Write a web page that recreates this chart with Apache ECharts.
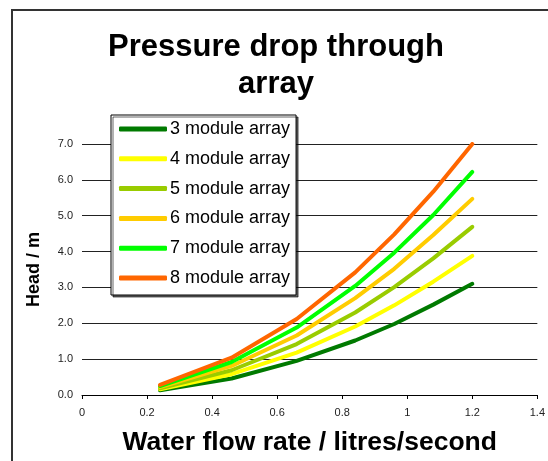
<!DOCTYPE html>
<html>
<head>
<meta charset="utf-8">
<script src="https://cdn.jsdelivr.net/npm/echarts@6/dist/echarts.min.js"></script>
<style>html,body{margin:0;padding:0;background:#fff;}#c{width:548px;height:461px;}</style>
</head>
<body>
<div id="c"></div>
<script>
const flowRates = [0.24, 0.46, 0.66, 0.84, 0.96, 1.08, 1.2];
const seriesNames = ['3 module array','4 module array','5 module array','6 module array','7 module array','8 module array'];
const head3 = [0.13, 0.46, 0.95, 1.52, 1.98, 2.52, 3.10];
const head4 = [0.16, 0.58, 1.18, 1.91, 2.50, 3.16, 3.88];
const head5 = [0.19, 0.69, 1.42, 2.30, 3.01, 3.81, 4.69];
const head6 = [0.22, 0.81, 1.66, 2.70, 3.52, 4.46, 5.47];
const head7 = [0.25, 0.92, 1.88, 3.04, 3.97, 5.02, 6.22];
const head8 = [0.28, 1.04, 2.12, 3.42, 4.48, 5.67, 7.00];
const colors = ['#007A00', '#FFFF00', '#99CC00', '#FFCC00', '#00FF00', '#FF6600'];
const xTicks = [0, 0.2, 0.4, 0.6, 0.8, 1, 1.2, 1.4];
const yTicks = [0, 1, 2, 3, 4, 5, 6, 7];

const allHeads = [head3, head4, head5, head6, head7, head8];
const chart = echarts.init(document.getElementById('c'), null, {renderer: 'canvas'});
const font = 'Arial, "Liberation Sans", Helvetica, sans-serif';
chart.setOption({
  animation: false,
  backgroundColor: '#fff',
  textStyle: {fontFamily: font},
  graphic: [{
    type: 'rect', z: -1, silent: true,
    shape: {x: 12, y: 10, width: 600, height: 520},
    style: {fill: 'none', stroke: '#333', lineWidth: 2}
  }],
  title: {
    text: 'Pressure drop through\narray',
    left: 271, top: 24, textAlign: 'center',
    textStyle: {fontFamily: font, fontSize: 31, fontWeight: 'bold', color: '#000', lineHeight: 37}
  },
  grid: {left: 82, right: 9, top: 144, bottom: 64, containLabel: false},
  legend: {
    orient: 'vertical', left: 111, top: 115,
    backgroundColor: '#fff', borderColor: '#000', borderWidth: 1,
    shadowColor: 'rgba(0,0,0,0.6)', shadowOffsetX: 2, shadowOffsetY: 2, shadowBlur: 0,
    padding: [5, 6, 8, 8], itemGap: 11.8, itemWidth: 48, itemHeight: 5,
    icon: 'roundRect',
    textStyle: {fontFamily: font, fontSize: 18, color: '#000', padding: [0,0,0,-2], lineHeight: 18},
    data: seriesNames
  },
  xAxis: {
    type: 'value', min: 0, max: 1.4, interval: 0.2,
    name: 'Water flow rate / litres/second', nameLocation: 'middle', nameGap: 34,
    nameTextStyle: {fontFamily: font, fontSize: 26.5, fontWeight: 'bold', color: '#000'},
    axisLine: {show: true, lineStyle: {color: '#000', width: 1}},
    axisTick: {show: true, inside: false, length: 4, lineStyle: {color: '#000'}},
    axisLabel: {fontSize: 11, color: '#222', margin: 12,
      customValues: xTicks, formatter: v => String(+v.toFixed(1))},
    splitLine: {show: false}
  },
  yAxis: {
    type: 'value', min: 0, max: 7, interval: 1,
    name: 'Head / m', nameLocation: 'middle', nameGap: 39, nameRotate: 90,
    nameTextStyle: {fontFamily: font, fontSize: 18, fontWeight: 'bold', color: '#000'},
    axisLine: {show: false},
    axisTick: {show: false},
    axisLabel: {fontSize: 11, color: '#222', margin: 9, formatter: v => v.toFixed(1)},
    splitLine: {show: true, lineStyle: {color: '#222', width: 1}}
  },
  series: seriesNames.map((n, i) => ({
    name: n, type: 'line', showSymbol: false, symbol: 'none',
    data: flowRates.map((q, j) => [q, allHeads[i][j]]),
    color: colors[i],
    lineStyle: {width: 4, color: colors[i], cap: 'round', join: 'round'},
    itemStyle: {color: colors[i]}
  }))
});
</script>
</body>
</html>
